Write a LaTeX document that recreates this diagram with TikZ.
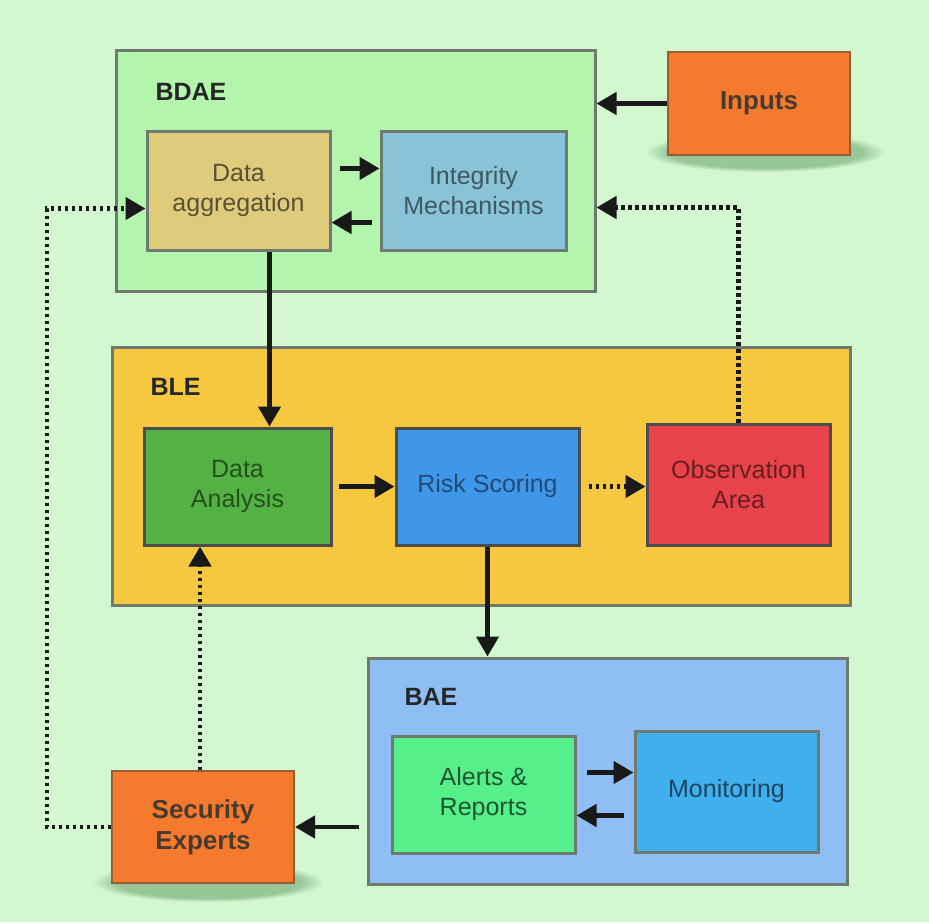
\documentclass[tikz,border=0pt]{standalone}
\usepackage{fontspec}
\setmainfont{Liberation Sans}
\usetikzlibrary{arrows.meta,fadings}
\definecolor{bg}{HTML}{D3F8CF}
\definecolor{bdaefill}{HTML}{B4F5AE}
\definecolor{blefill}{HTML}{F5C83F}
\definecolor{baefill}{HTML}{8FBEF4}
\definecolor{aggfill}{HTML}{DFCB7C}
\definecolor{intfill}{HTML}{88C3D8}
\definecolor{danfill}{HTML}{53B243}
\definecolor{riskfill}{HTML}{3F97E9}
\definecolor{obsfill}{HTML}{E8424A}
\definecolor{alfill}{HTML}{55F08A}
\definecolor{monfill}{HTML}{40AFEE}
\definecolor{orfill}{HTML}{F57A2E}
\definecolor{frame}{HTML}{6E7A70}
\definecolor{darkframe}{HTML}{5A4A3A}
\definecolor{shadowc}{HTML}{4E8A58}
\tikzset{
  region/.style={draw=frame, line width=3pt, rectangle},
  inner/.style={draw=frame, line width=3pt, rectangle, align=center,
    font=\fontsize{25}{30}\selectfont},
  ext/.style={draw=darkframe!60!orfill, line width=2pt, rectangle, align=center, fill=orfill,
    text=darkframe!80!black, font=\fontsize{26}{31}\selectfont\bfseries},
  title/.style={anchor=west, font=\fontsize{25}{30}\selectfont\bfseries, text=black!85},
  arr/.style={line width=4.5pt, -{Triangle[length=20pt,width=22pt]}, black!90},
  dotarr/.style={line width=4.5pt, dash pattern=on 3.5pt off 3.5pt, -{Triangle[length=20pt,width=22pt]}, black!90},
}
\begin{document}
\begin{tikzpicture}[x=1pt,y=-1pt]
\fill[bg] (0,0) rectangle (929,922);
\useasboundingbox (0,0) rectangle (929,922);

% soft shadows
\fill[shadowc, opacity=0.45, path fading=circle with fuzzy edge 20 percent] (765,152) ellipse (120pt and 20pt);
\fill[shadowc, opacity=0.45, path fading=circle with fuzzy edge 20 percent] (208,882) ellipse (115pt and 20pt);

% regions
\node[region, fill=bdaefill, minimum width=479pt, minimum height=241pt] (bdae) at (355.5,170.5) {};
\node[region, fill=blefill, minimum width=738pt, minimum height=258pt] (ble) at (481,476) {};
\node[region, fill=baefill, minimum width=479pt, minimum height=226pt] (bae) at (607.5,771) {};

\node[title] (tbdae) at (152,92) {BDAE};
\node[title] (tble) at (147,387) {BLE};
\node[title] (tbae) at (401,697) {BAE};

% inner boxes
\node[inner, fill=aggfill, text=aggfill!40!black, minimum width=183pt, minimum height=119pt] (da) at (238.5,190.5) {Data\\aggregation};
\node[inner, fill=intfill, text=intfill!45!black, minimum width=185pt, minimum height=119pt] (im) at (473.5,190.5) {Integrity\\Mechanisms};
\node[inner, draw=black!70, fill=danfill, text=danfill!45!black, minimum width=187pt, minimum height=117pt] (dan) at (237.5,486.5) {Data\\Analysis};
\node[inner, draw=black!70, fill=riskfill, text=riskfill!50!black, minimum width=183pt, minimum height=117pt] (risk) at (487.5,486.5) {Risk Scoring};
\node[inner, draw=black!70, fill=obsfill, text=obsfill!45!black, minimum width=183pt, minimum height=121pt] (obs) at (738.5,484.5) {Observation\\Area};
\node[inner, fill=alfill, text=alfill!35!black, minimum width=183pt, minimum height=117pt] (al) at (483.5,794.5) {Alerts \&\\Reports};
\node[inner, fill=monfill, text=monfill!40!black, minimum width=183pt, minimum height=121pt] (mon) at (726.5,791.5) {Monitoring};

% external boxes
\node[ext, minimum width=182pt, minimum height=103pt] (inp) at (759,103.5) {Inputs};
\node[ext, minimum width=182pt, minimum height=112pt] (se) at (203,827) {Security\\Experts};

% connectors
\draw[arr] (inp.west) -- (bdae.east |- inp.west);
\draw[arr] ([xshift=8pt,yshift=22pt]da.east) -- ([yshift=22pt]im.west);
\draw[arr] ([xshift=-8pt,yshift=-32pt]im.west) -- ([yshift=-32pt]da.east);
\draw[arr] ([xshift=31pt]da.south) -- ([xshift=31pt]da.south |- dan.north);
\draw[arr] ([xshift=6pt]dan.east) -- (risk.west |- dan.east);
\draw[dotarr] ([xshift=8pt]risk.east) -- (obs.west |- risk.east);
\draw[dotarr] (obs.north) |- ([yshift=-37pt]bdae.east);
\draw[arr] (risk.south) -- (risk.south |- bae.north);
\draw[arr] ([xshift=10pt,yshift=22pt]al.east) -- ([yshift=22pt]al.east -| mon.west);
\draw[arr] ([xshift=-10pt,yshift=-24pt]mon.west) -- ([yshift=-24pt]mon.west -| al.east);
\draw[arr] ([xshift=-8pt]bae.west |- se.east) -- (se.east);
\draw[dotarr] ([xshift=-3pt]se.north) -- ([xshift=-3pt]se.north |- dan.south);
\draw[dotarr] (se.west) -- (47,827) |- ([yshift=-18pt]da.west);
\end{tikzpicture}
\end{document}
